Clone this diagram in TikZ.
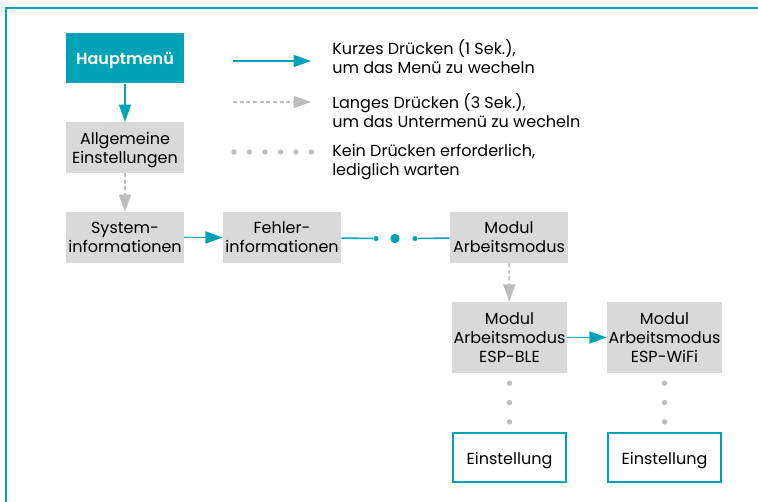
\documentclass[tikz,border=0pt]{standalone}
\usepackage{fontspec}
\setmainfont{Poppins}[BoldFont={Poppins SemiBold}]
\usetikzlibrary{arrows.meta}

\definecolor{tealmain}{HTML}{00A3B6}
\definecolor{boxgray}{HTML}{D9D9D9}
\definecolor{linegray}{HTML}{BDBDBD}

\tikzset{
	txt/.style = {font = \fontsize{12}{14.25}\selectfont},
	menubox/.style = {txt, fill = boxgray, inner sep = 0pt, align = center, text depth = 0pt, minimum width = 88.5pt, minimum height = 38pt},
	modebox/.style = {menubox, minimum width = 86.25pt, minimum height = 53.25pt},
	settingbox/.style = {txt, draw = tealmain, line width = 1.5pt, fill = white, inner sep = 0pt, text depth = 0pt, minimum width = 84.75pt, minimum height = 36.75pt},
	short_press/.style = {draw = tealmain, line width = 1.2pt, -{Triangle[length = 13pt, width = 9pt]}},
	long_press/.style = {draw = linegray, line width = 1.1pt, dash pattern = on 3pt off 2pt, -{Triangle[length = 13pt, width = 9pt]}},
	wait/.style = {draw = linegray, line width = 4pt, line cap = round, dash pattern = on 0pt off #1},
	wait/.default = 14.5pt,
	chain_dot/.style = {circle, fill = tealmain, inner sep = 0pt, minimum size = #1}
}

\begin{document}
\begin{tikzpicture}[x = 0.75pt, y = -0.75pt]
	\useasboundingbox (0,0) rectangle (758,502);
	\draw[tealmain, line width = 1.8pt] (6,502) -- (6,8) -- (758,8);

	\node[menubox, fill = tealmain, text = white, font = \fontsize{12}{14.25}\selectfont\bfseries] at (125,58) (hauptmenu) {Hauptmenü};
	\node[menubox] at (125,147.5) (allgemeine) {Allgemeine\\Einstellungen};
	\node[menubox] at (125,237.5) (system_info) {System-\\informationen};
	\node[menubox] at (282,237.5) (fehler_info) {Fehler-\\informationen};
	\node[menubox] at (509,237.5) (modul) {Modul\\Arbeitsmodus};
	\node[modebox] at (509.5,337.5) (modul_ble) {Modul\\Arbeitsmodus\\ESP-BLE};
	\node[modebox] at (664.5,337.5) (modul_wifi) {Modul\\Arbeitsmodus\\ESP-WiFi};
	\node[settingbox] at (509.5,458) (setting_ble) {Einstellung};
	\node[settingbox] at (664.5,458) (setting_wifi) {Einstellung};

	\node[chain_dot = 3.8pt] at (376,238.5) (dot_left) {};
	\node[chain_dot = 7pt] at (395,238.5) (dot_mid) {};
	\node[chain_dot = 3.8pt] at (415,238.5) (dot_right) {};

	\coordinate (legend_short_a) at (233,61);
	\coordinate (legend_short_b) at (311,61);
	\coordinate (legend_long_a) at (233,102);
	\coordinate (legend_long_b) at (311,102);
	\coordinate (legend_wait_a) at (234,152);
	\coordinate (legend_wait_b) at (313,152);

	\node[txt, anchor = west, align = left, inner xsep = 0pt] at (332,57) (legend_short) {Kurzes Drücken (1 Sek.),\\um das Menü zu wecheln};
	\node[txt, anchor = west, align = left, inner xsep = 0pt] at (332,111) (legend_long) {Langes Drücken (3 Sek.),\\um das Untermenü zu wecheln};
	\node[txt, anchor = west, align = left, inner xsep = 0pt] at (332,162) (legend_wait) {Kein Drücken erforderlich,\\lediglich warten};

	\draw[short_press] (legend_short_a) -- (legend_short_b);
	\draw[long_press] (legend_long_a) -- (legend_long_b);
	\draw[wait = 11.6pt] (legend_wait_a) -- (legend_wait_b);

	\draw[short_press] (hauptmenu) -- (allgemeine);
	\draw[long_press] (allgemeine) -- (system_info);
	\draw[short_press] (system_info) -- (fehler_info);
	\draw[tealmain, line width = 1.2pt] (fehler_info) -- (dot_left);
	\draw[tealmain, line width = 1.2pt] (dot_right) -- (modul);
	\draw[long_press] (modul) -- (modul_ble);
	\draw[short_press] (modul_ble) -- (modul_wifi);

	\draw[wait, shorten < = 7.5pt, shorten > = 7.5pt] (modul_ble) -- (setting_ble);
	\draw[wait, shorten < = 7.5pt, shorten > = 7.5pt] (modul_wifi) -- (setting_wifi);
\end{tikzpicture}
\end{document}
